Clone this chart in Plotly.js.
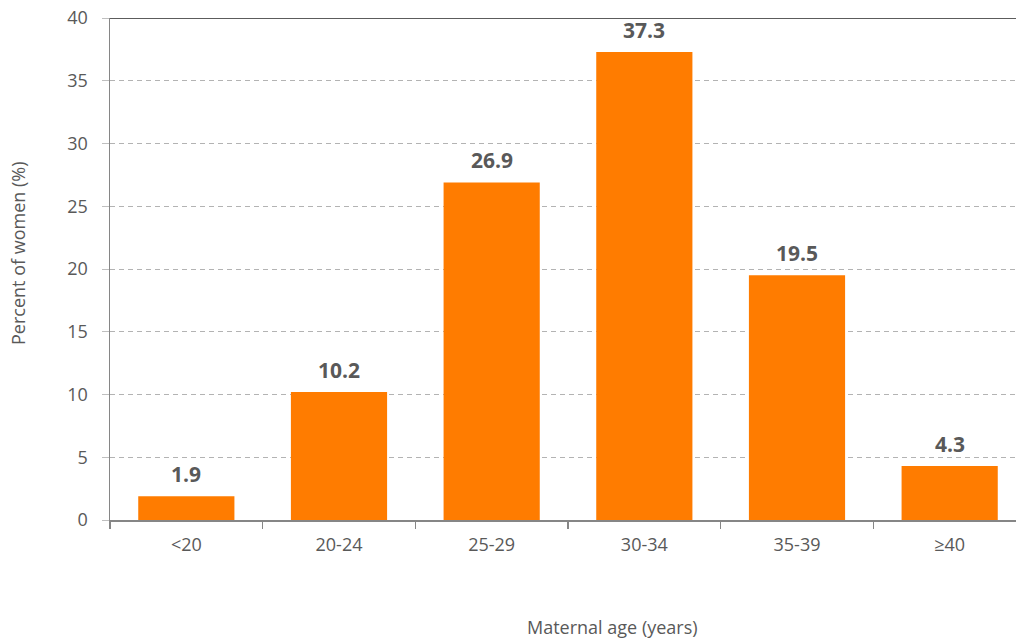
<!DOCTYPE html>
<html><head><meta charset="utf-8">
<script src="https://cdn.plot.ly/plotly-3.0.1.min.js"></script>
<style>html,body{margin:0;padding:0;overflow:hidden;background:#fff}</style>
</head><body>
<div id="chart" style="width:1026px;height:643px"></div>
<script>
var categories = ["<20", "20-24", "25-29", "30-34", "35-39", "≥40"];
var percentWomen = [1.9, 10.2, 26.9, 37.3, 19.5, 4.3];
var labels = ["1.9", "10.2", "26.9", "37.3", "19.5", "4.3"];
var yTicks = [0, 5, 10, 15, 20, 25, 30, 35, 40];

var font = "Open Sans, Liberation Sans, sans-serif";
var trace = {
  type: "bar",
  x: categories,
  y: percentWomen,
  marker: {color: "#FF7C00"},
  hoverinfo: "x+y"
};
var valueLabels = categories.map(function (c, i) {
  return {x: c, y: percentWomen[i], xref: "x", yref: "y", text: "<b>" + labels[i] + "</b>",
          showarrow: false, xanchor: "center", yanchor: "bottom", yshift: 6,
          font: {family: font, size: 21, color: "#595959"}};
});
var layout = {
  width: 1026, height: 643,
  margin: {l: 110, r: 0, t: 18, b: 123},
  paper_bgcolor: "#fff", plot_bgcolor: "#fff",
  bargap: 0.37,
  showlegend: false,
  font: {family: font, color: "#595959"},
  xaxis: {
    type: "category",
    tickson: "boundaries",
    ticks: "outside", ticklen: 7, tickcolor: "#868686", tickwidth: 1.5,
    showline: true, linecolor: "#868686", linewidth: 1.5,
    showgrid: false,
    ticklabelstandoff: 8,
    tickfont: {family: font, size: 18, color: "#595959"},
    fixedrange: true
  },
  yaxis: {
    range: [0, 40],
    tickvals: yTicks,
    ticks: "outside", ticklen: 7, tickcolor: "#bfbfbf",
    showline: true, linecolor: "#868686", linewidth: 1.5,
    showgrid: true, gridcolor: "#b3b3b3", griddash: "5px,4px", gridwidth: 1,
    zeroline: false,
    ticklabelstandoff: 10,
    tickfont: {family: font, size: 18, color: "#595959"},
    fixedrange: true
  },
  shapes: [{type: "line", xref: "paper", yref: "y", x0: 0, x1: 1, y0: 40, y1: 40,
            line: {color: "#262626", width: 1.5}}],
  annotations: valueLabels.concat([
    {text: "Maternal age (years)", xref: "paper", yref: "paper", x: (612 - 110) / 916, y: 0,
     yshift: -107, xanchor: "center", yanchor: "middle", showarrow: false,
     font: {family: font, size: 18, color: "#595959"}},
    {text: "Percent of women (%)", xref: "paper", yref: "paper", x: 0, y: (520 - 254) / 502,
     xshift: -92, textangle: -90, xanchor: "center", yanchor: "middle", showarrow: false,
     font: {family: font, size: 18, color: "#595959"}}
  ])
};
Plotly.newPlot("chart", [trace], layout, {displayModeBar: false, staticPlot: true});
</script>
</body></html>
